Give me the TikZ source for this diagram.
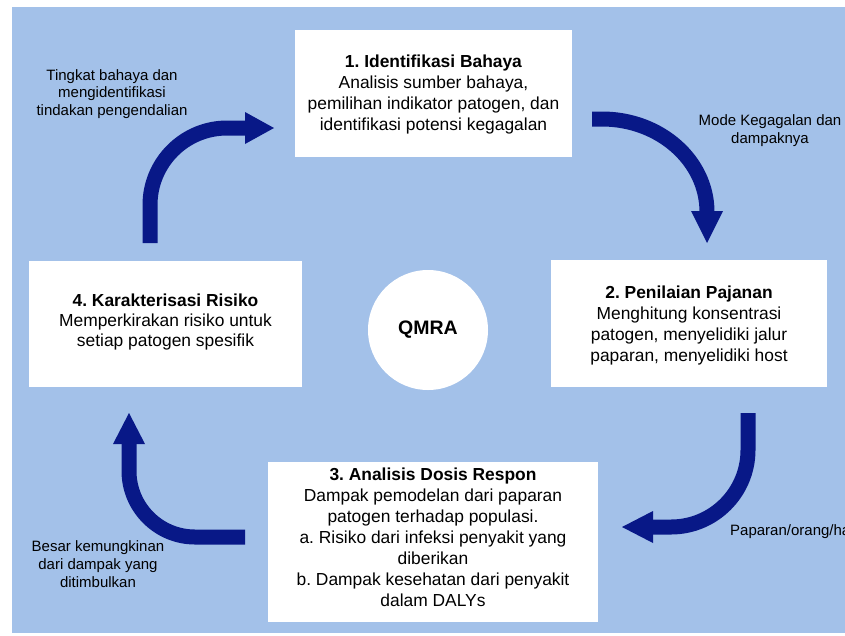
\documentclass[tikz,border=0pt]{standalone}
\usepackage{fontspec}
\setmainfont{Liberation Sans}
\definecolor{bgblue}{RGB}{163,193,233}
\definecolor{navy}{RGB}{8,24,135}
\frenchspacing
\begin{document}
\begin{tikzpicture}[x=1pt,y=-1pt,
  box/.style={fill=white, inner sep=0pt},
  boxtxt/.style={align=center, font=\fontsize{17.4}{21}\selectfont, text=black, inner sep=0pt},
  lbl/.style={align=center, font=\fontsize{15}{17.8}\selectfont, text=black, inner sep=0pt},
  shaft/.style={draw=navy, line width=15pt},
  head/.style={fill=navy, draw=none}]
\useasboundingbox (0,0) rectangle (845,635);
\clip (0,0) rectangle (845,635);
\fill[white] (0,0) rectangle (845,635);
\fill[bgblue] (12,7) rectangle (845,633);

% boxes
\node[box, minimum width=277pt, minimum height=127pt] (b1) at (433.5,93.5) {};
\node[box, minimum width=276pt, minimum height=127pt] (b2) at (689,323.5) {};
\node[box, minimum width=273pt, minimum height=126pt] (b4) at (165.5,324) {};
\node[box, minimum width=330pt, minimum height=160pt] (b3) at (433,542) {};

\node[boxtxt] (t1) at (433.5,94) {\textbf{1. Identifikasi Bahaya}\\Analisis sumber bahaya,\\pemilihan indikator patogen, dan\\identifikasi potensi kegagalan};
\node[boxtxt] (t2) at (689,325) {\textbf{2. Penilaian Pajanan}\\Menghitung konsentrasi\\patogen, menyelidiki jalur\\paparan, menyelidiki host};
\node[boxtxt, font=\fontsize{17.4}{20}\selectfont] (t4) at (165.5,322) {\textbf{4. Karakterisasi Risiko}\\Memperkirakan risiko untuk\\setiap patogen spesifik};
\node[boxtxt] (t3) at (433,537) {\textbf{3. Analisis Dosis Respon}\\Dampak pemodelan dari paparan\\patogen terhadap populasi.\\a. Risiko dari infeksi penyakit yang\\diberikan\\b. Dampak kesehatan dari penyakit\\dalam DALYs};

% centre circle
\node[circle, fill=white, minimum size=120pt, inner sep=0pt, font=\fontsize{19.5}{22}\selectfont\bfseries] (q) at (428,330) {QMRA};

% labels
\node[lbl] (l1) at (112,94) {Tingkat bahaya dan\\mengidentifikasi\\tindakan pengendalian};
\node[lbl] (l2) at (770,131) {Mode Kegagalan dan\\dampaknya};
\node[lbl] (l3) at (98,564) {Besar kemungkinan\\dari dampak yang\\ditimbulkan};
\node[lbl, anchor=west] (l4) at (730,532) {Paparan/orang/hari};

% arrow A: box 4 -> box 1
\coordinate (A0) at (150,243);
\coordinate (A1) at (274,128);
\draw[shaft] (A0) -- (150,205) arc[start angle=180, end angle=270, radius=77] -- (246,128);
\fill[head] (245,112) -- (A1) -- (245,144) -- cycle;

% arrow B: box 1 -> box 2
\coordinate (B0) at (592,119);
\coordinate (B1) at (707,243);
\draw[shaft] (B0) -- (602,119) arc[start angle=-90, end angle=0, x radius=105, y radius=93];
\fill[head] (691,211) -- (B1) -- (723,211) -- cycle;

% arrow C: box 2 -> box 3
\coordinate (C0) at (748,413);
\coordinate (C1) at (622,527);
\draw[shaft] (C0) -- (748,450) arc[start angle=0, end angle=90, radius=77] -- (652,527);
\fill[head] (653,511) -- (C1) -- (653,543) -- cycle;

% arrow D: box 3 -> box 4
\coordinate (D0) at (245,537);
\coordinate (D1) at (129,413);
\draw[shaft] (D0) -- (195,537) arc[start angle=90, end angle=180, radius=66] -- (129,443);
\fill[head] (113,444) -- (D1) -- (145,444) -- cycle;
\end{tikzpicture}
\end{document}
